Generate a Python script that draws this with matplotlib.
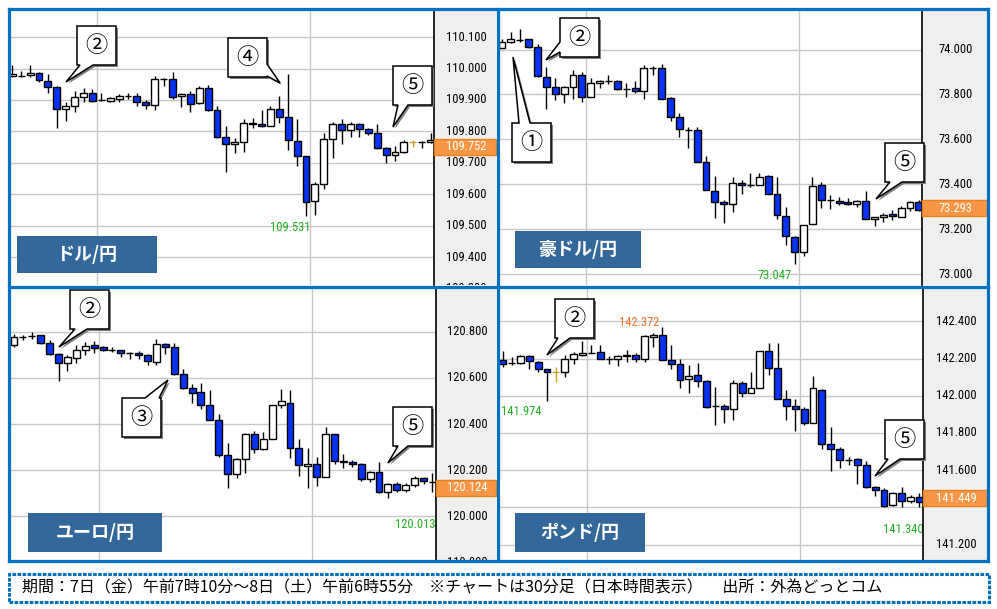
import matplotlib
matplotlib.use("Agg")
import matplotlib.pyplot as plt
from matplotlib import font_manager
from matplotlib.patches import Rectangle, Polygon
from matplotlib.lines import Line2D

# 30-minute candles, 7th 07:10 to 8th 06:55 (JST)
usd_open = [109.976, 109.976, 109.980, 109.987, 109.960, 109.940, 109.870, 109.882, 109.911, 109.923,
            109.899, 109.898, 109.904, 109.913, 109.914, 109.893, 109.883, 109.968, 109.968, 109.912,
            109.918, 109.889, 109.937, 109.868, 109.781, 109.760, 109.765, 109.828, 109.824, 109.818,
            109.870, 109.845, 109.771, 109.722, 109.580, 109.633, 109.775, 109.823, 109.805, 109.823,
            109.807, 109.794, 109.746, 109.725, 109.734, 109.765, 109.767, 109.766]
usd_high = [110.011, 109.992, 110.011, 109.990, 109.983, 109.945, 109.895, 109.927, 109.937, 109.934,
            109.921, 109.911, 109.918, 109.921, 109.921, 109.900, 109.976, 109.971, 109.989, 109.923,
            109.930, 109.945, 109.948, 109.882, 109.817, 109.778, 109.840, 109.842, 109.868, 109.882,
            109.913, 109.983, 109.840, 109.722, 109.640, 109.794, 109.831, 109.840, 109.831, 109.826,
            109.810, 109.824, 109.752, 109.755, 109.773, 109.773, 109.771, 109.794]
usd_low = [109.974, 109.972, 109.974, 109.956, 109.923, 109.812, 109.834, 109.863, 109.895, 109.895,
           109.898, 109.895, 109.895, 109.902, 109.881, 109.872, 109.868, 109.945, 109.904, 109.879,
           109.861, 109.886, 109.866, 109.778, 109.672, 109.733, 109.736, 109.810, 109.815, 109.818,
           109.828, 109.741, 109.690, 109.531, 109.533, 109.616, 109.717, 109.759, 109.781, 109.781,
           109.789, 109.743, 109.699, 109.707, 109.730, 109.752, 109.748, 109.762]
usd_close = [109.983, 109.977, 109.987, 109.964, 109.940, 109.870, 109.882, 109.911, 109.923, 109.898,
             109.900, 109.905, 109.913, 109.912, 109.893, 109.883, 109.968, 109.967, 109.911, 109.918,
             109.887, 109.937, 109.868, 109.781, 109.760, 109.765, 109.828, 109.824, 109.818, 109.870,
             109.845, 109.773, 109.722, 109.577, 109.633, 109.775, 109.823, 109.805, 109.823, 109.807,
             109.794, 109.746, 109.725, 109.734, 109.765, 109.766, 109.768, 109.773]

aud_open = [74.005, 74.035, 74.042, 74.045, 74.013, 73.876, 73.832, 73.801, 73.832, 73.885,
            73.787, 73.850, 73.861, 73.861, 73.825, 73.827, 73.814, 73.916, 73.916, 73.783,
            73.698, 73.642, 73.642, 73.501, 73.370, 73.321, 73.312, 73.407, 73.395, 73.396,
            73.439, 73.355, 73.261, 73.167, 73.097, 73.222, 73.397, 73.329, 73.326, 73.321,
            73.312, 73.326, 73.244, 73.253, 73.266, 73.256, 73.296, 73.320]
aud_high = [74.045, 74.080, 74.090, 74.046, 74.023, 73.921, 73.872, 73.838, 73.909, 73.901,
            73.872, 73.864, 73.887, 73.864, 73.850, 73.861, 73.931, 73.927, 73.936, 73.790,
            73.716, 73.657, 73.654, 73.526, 73.437, 73.330, 73.431, 73.419, 73.449, 73.449,
            73.440, 73.431, 73.301, 73.170, 73.220, 73.434, 73.412, 73.353, 73.345, 73.338,
            73.330, 73.370, 73.256, 73.274, 73.286, 73.305, 73.326, 73.330]
aud_low = [74.005, 74.031, 74.035, 74.008, 73.879, 73.734, 73.775, 73.763, 73.778, 73.765,
           73.787, 73.827, 73.847, 73.820, 73.790, 73.805, 73.781, 73.887, 73.778, 73.683,
           73.612, 73.560, 73.501, 73.373, 73.249, 73.226, 73.278, 73.355, 73.390, 73.395,
           73.355, 73.244, 73.130, 73.047, 73.081, 73.222, 73.293, 73.289, 73.307, 73.307,
           73.301, 73.244, 73.216, 73.231, 73.240, 73.253, 73.281, 73.283]
aud_close = [74.035, 74.045, 74.043, 74.013, 73.884, 73.832, 73.801, 73.832, 73.885, 73.787,
             73.850, 73.858, 73.862, 73.823, 73.826, 73.814, 73.916, 73.917, 73.780, 73.698,
             73.645, 73.643, 73.501, 73.373, 73.320, 73.312, 73.404, 73.397, 73.396, 73.434,
             73.355, 73.263, 73.170, 73.097, 73.219, 73.394, 73.330, 73.330, 73.318, 73.312,
             73.326, 73.244, 73.253, 73.262, 73.259, 73.296, 73.320, 73.286]

eur_open = [120.742, 120.777, 120.781, 120.785, 120.753, 120.705, 120.666, 120.688, 120.723, 120.742,
            120.733, 120.722, 120.720, 120.708, 120.710, 120.701, 120.669, 120.749, 120.733, 120.619,
            120.558, 120.539, 120.484, 120.419, 120.265, 120.181, 120.246, 120.355, 120.290, 120.333,
            120.482, 120.489, 120.297, 120.219, 120.227, 120.171, 120.355, 120.240, 120.236, 120.226,
            120.160, 120.190, 120.103, 120.138, 120.113, 120.135, 120.164, 120.148]
eur_high = [120.792, 120.788, 120.799, 120.788, 120.763, 120.708, 120.698, 120.742, 120.756, 120.759,
            120.737, 120.734, 120.723, 120.713, 120.716, 120.705, 120.767, 120.750, 120.753, 120.640,
            120.575, 120.580, 120.547, 120.445, 120.316, 120.251, 120.359, 120.369, 120.366, 120.484,
            120.551, 120.547, 120.337, 120.294, 120.258, 120.388, 120.355, 120.272, 120.243, 120.229,
            120.197, 120.233, 120.142, 120.147, 120.142, 120.175, 120.171, 120.186]
eur_low = [120.734, 120.763, 120.767, 120.749, 120.698, 120.586, 120.629, 120.666, 120.701, 120.710,
           120.717, 120.713, 120.691, 120.681, 120.684, 120.658, 120.658, 120.705, 120.614, 120.554,
           120.489, 120.467, 120.419, 120.258, 120.121, 120.167, 120.186, 120.275, 120.287, 120.333,
           120.470, 120.253, 120.175, 120.121, 120.132, 120.171, 120.225, 120.207, 120.214, 120.152,
           120.147, 120.099, 120.080, 120.103, 120.106, 120.128, 120.138, 120.103]
eur_close = [120.778, 120.778, 120.782, 120.753, 120.705, 120.666, 120.691, 120.723, 120.740, 120.731,
             120.723, 120.723, 120.710, 120.709, 120.701, 120.672, 120.749, 120.733, 120.619, 120.558,
             120.536, 120.484, 120.419, 120.265, 120.181, 120.246, 120.355, 120.290, 120.333, 120.482,
             120.499, 120.297, 120.222, 120.227, 120.171, 120.355, 120.239, 120.233, 120.225, 120.160,
             120.190, 120.103, 120.138, 120.113, 120.135, 120.164, 120.152, 120.147]

gbp_open = [142.191, 142.176, 142.177, 142.212, 142.182, 142.141, 142.125, 142.125, 142.200, 142.221,
            142.232, 142.236, 142.196, 142.196, 142.211, 142.221, 142.200, 142.318, 142.329, 142.194,
            142.173, 142.092, 142.110, 142.080, 141.946, 141.946, 141.931, 142.071, 142.017, 142.044,
            142.243, 142.151, 141.980, 141.944, 141.926, 141.856, 142.033, 141.743, 141.716, 141.657,
            141.659, 141.627, 141.510, 141.493, 141.412, 141.475, 141.433, 141.453]
gbp_high = [142.239, 142.209, 142.218, 142.218, 142.186, 142.146, 142.155, 142.221, 142.236, 142.293,
            142.271, 142.271, 142.214, 142.218, 142.245, 142.232, 142.329, 142.338, 142.372, 142.271,
            142.200, 142.164, 142.178, 142.083, 142.048, 141.953, 142.083, 142.078, 142.125, 142.243,
            142.286, 142.286, 142.033, 141.985, 141.940, 142.107, 142.035, 141.833, 141.725, 141.672,
            141.663, 141.648, 141.514, 141.502, 141.484, 141.510, 141.466, 141.478]
gbp_low = [142.155, 142.164, 142.173, 142.146, 142.125, 141.974, 142.074, 142.101, 142.168, 142.214,
           142.227, 142.200, 142.169, 142.160, 142.182, 142.182, 142.182, 142.262, 142.191, 142.146,
           142.042, 142.012, 142.048, 141.935, 141.845, 141.856, 141.869, 141.994, 142.017, 142.039,
           142.114, 141.980, 141.869, 141.811, 141.842, 141.851, 141.713, 141.598, 141.609, 141.627,
           141.528, 141.502, 141.462, 141.403, 141.408, 141.403, 141.421, 141.403]
gbp_close = [142.173, 142.177, 142.212, 142.186, 142.143, 142.125, 142.126, 142.196, 142.223, 142.232,
             142.231, 142.200, 142.196, 142.211, 142.221, 142.200, 142.320, 142.329, 142.194, 142.173,
             142.087, 142.105, 142.080, 141.940, 141.945, 141.931, 142.071, 142.017, 142.044, 142.243,
             142.151, 141.980, 141.944, 141.926, 141.856, 142.039, 141.743, 141.716, 141.654, 141.656,
             141.627, 141.507, 141.494, 141.407, 141.475, 141.433, 141.453, 141.430]

usd_ticks = [109.3, 109.4, 109.5, 109.6, 109.7, 109.8, 109.9, 110.0, 110.1]
aud_ticks = [73.0, 73.2, 73.4, 73.6, 73.8, 74.0]
eur_ticks = [119.8, 120.0, 120.2, 120.4, 120.6, 120.8]
gbp_ticks = [141.2, 141.4, 141.6, 141.8, 142.0, 142.2, 142.4]
last_prices = [109.752, 73.293, 120.124, 141.449]
titles = ["ドル/円", "豪ドル/円", "ユーロ/円", "ポンド/円"]
caption = "期間：7日（金）午前7時10分～8日（土）午前6時55分　※チャートは30分足（日本時間表示）　 出所：外為どっとコム"

W, H = 997, 609
FRAME = "#0070c0"
DOWN = "#0a32f5"
GOLD = "#c8a032"
GRID = "#c8c8c8"
TITLE_BG = "#34679a"
JP = ["Noto Sans CJK JP", "DejaVu Sans"]

names = {f.name for f in font_manager.fontManager.ttflist}
NUM = next((n for n in ["Liberation Sans Narrow", "Roboto Condensed", "Arial Narrow"] if n in names), "DejaVu Sans")
plt.rcParams["font.family"] = [NUM, "DejaVu Sans"]

fig = plt.figure(figsize=(W / 100, H / 100), dpi=100)


def fx(px):
    return px / W


def fy(py):
    return 1 - py / H


def px_axes(l, t, r, b):
    return fig.add_axes([fx(l), fy(b), (r - l) / W, (b - t) / H])


panels = [
    dict(o=usd_open, h=usd_high, l=usd_low, c=usd_close, ticks=usd_ticks, ylim=(109.312, 110.186),
         xlim=(-0.26, 47.38), box=(10, 10, 434, 285), right=496, gold=[45],
         title_box=(17, 236, 157, 273),
         notes=[(31.2, 109.494, "109.531", "#20b020", "center")]),
    dict(o=aud_open, h=aud_high, l=aud_low, c=aud_close, ticks=aud_ticks, ylim=(72.952, 74.176),
         xlim=(-0.23, 47.35), box=(500, 10, 922, 285), right=987, gold=[],
         title_box=(515, 231, 641, 268),
         notes=[(30.7, 72.993, "73.047", "#20b020", "center")]),
    dict(o=eur_open, h=eur_high, l=eur_low, c=eur_close, ticks=eur_ticks, ylim=(119.81, 120.99),
         xlim=(-0.45, 47.4), box=(10, 288, 436, 560), right=496, gold=[],
         title_box=(28, 513, 162, 552),
         notes=[(42.8, 119.966, "120.013", "#20b020", "left")]),
    dict(o=gbp_open, h=gbp_high, l=gbp_low, c=gbp_close, ticks=gbp_ticks, ylim=(141.117, 142.579),
         xlim=(-0.3, 47.4), box=(500, 288, 923, 560), right=987, gold=[6],
         title_box=(515, 513, 645, 552),
         notes=[(-0.16, 141.913, "141.974", "#20b020", "left"),
                (15.4, 142.391, "142.372", "#f07020", "center"),
                (42.9, 141.281, "141.340", "#20b020", "left")]),
]

for p, last, title in zip(panels, last_prices, titles):
    l, t, r, b = p["box"]
    ax = px_axes(l, t, r, b)
    ax.set_xlim(*p["xlim"])
    ax.set_ylim(*p["ylim"])
    ax.set_xticks([])
    ax.set_yticks([])
    for s in ax.spines.values():
        s.set_visible(False)
    for tk in p["ticks"]:
        ax.axhline(tk, color=GRID, lw=1, zorder=0)
    for v in (9.5, 33.5):
        ax.axvline(v, color=GRID, lw=1, zorder=0)

    for i, (o, hi, lo, c) in enumerate(zip(p["o"], p["h"], p["l"], p["c"])):
        edge = GOLD if i in p["gold"] else "black"
        face = "white" if c >= o else DOWN
        if i in p["gold"]:
            face = GOLD
        ax.vlines(i, lo, hi, color=edge, lw=1, zorder=2)
        ax.add_patch(Rectangle((i - 0.39, min(o, c)), 0.78, abs(c - o),
                               facecolor=face, edgecolor=edge, lw=1, zorder=3))

    for x, y, txt, col, ha in p["notes"]:
        ax.text(x, y, txt, color=col, fontsize=9, ha=ha, va="center", clip_on=True, zorder=4)

    # price scale on the right
    pax = px_axes(r, t, p["right"], b)
    pax.set_facecolor("#efefef")
    pax.set_xlim(0, 1)
    pax.set_ylim(*p["ylim"])
    pax.set_xticks([])
    pax.set_yticks([])
    for name, s in pax.spines.items():
        s.set_visible(name == "left")
    pax.spines["left"].set_color("black")
    pax.spines["left"].set_linewidth(1.2)
    span = p["ylim"][1] - p["ylim"][0]
    hh = 16 * span / (b - t)
    for tk in p["ticks"]:
        # a scale label sitting under the current-price tag is hidden by it
        if abs(tk - last) < hh * 0.9:
            continue
        pax.text(0.52, tk, f"{tk:.3f}", fontsize=9, ha="center", va="center", clip_on=True)
    pax.add_patch(Rectangle((0, last - hh / 2), 1, hh, facecolor="#f79646",
                            edgecolor="#e8821e", lw=1, zorder=3, clip_on=False))
    pax.text(0.52, last, f"{last:.3f}", color="white", fontsize=9, ha="center",
             va="center", zorder=4)

    # pair name box
    tl, tt, tr, tb = p["title_box"]
    fig.add_artist(Rectangle((fx(tl), fy(tb)), (tr - tl) / W, (tb - tt) / H,
                             transform=fig.transFigure, facecolor=TITLE_BG, edgecolor="none"))
    fig.text(fx((tl + tr) / 2), fy((tt + tb) / 2), title, color="white", fontsize=13,
             fontweight="bold", ha="center", va="center", family=JP)


def callout(x, y, edge, a, b, tip, label):
    w = h = 39
    x1, y1 = x + w, y + h
    if edge == "bottom":
        pts = [(x, y), (x1, y), (x1, y1), (b, y1), tip, (a, y1), (x, y1)]
    elif edge == "top":
        pts = [(x, y), (a, y), tip, (b, y), (x1, y), (x1, y1), (x, y1)]
    elif edge == "left":
        pts = [(x, y), (x1, y), (x1, y1), (x, y1), (x, b), tip, (x, a)]
    else:
        pts = [(x, y), (x1, y), (x1, a), tip, (x1, b), (x1, y1), (x, y1)]
    shadow = [(px + 2, py + 2) for px, py in pts]
    fig.add_artist(Polygon([(fx(px), fy(py)) for px, py in shadow], closed=True,
                           transform=fig.transFigure, facecolor="#808080", edgecolor="none"))
    fig.add_artist(Polygon([(fx(px), fy(py)) for px, py in pts], closed=True,
                           transform=fig.transFigure, facecolor="white", edgecolor="black", lw=1.1))
    fig.text(fx(x + w / 2), fy(y + h / 2), label, fontsize=16, ha="center", va="center", family=JP)


callouts = [
    (77, 26, "bottom", 80, 93, (66, 82), "②"),
    (228, 38, "right", 64, 76, (280, 83), "④"),
    (393, 66, "bottom", 398, 408, (393, 127), "⑤"),
    (560, 18, "left", 42, 52, (546, 60), "②"),
    (512, 123, "top", 519, 530, (513, 57), "①"),
    (885, 143, "bottom", 890, 902, (876, 199), "⑤"),
    (70, 290, "bottom", 75, 87, (59, 347), "②"),
    (122, 398, "top", 145, 159, (168, 380), "③"),
    (393, 407, "bottom", 398, 408, (388, 463), "⑤"),
    (555, 299, "bottom", 558, 570, (547, 355), "②"),
    (885, 420, "bottom", 888, 900, (875, 476), "⑤"),
]
for c in callouts:
    callout(*c)

# blue frame around the four panels
for (x0, y0, x1, y1) in [(8.5, 8.5, 988, 8.5), (8.5, 561, 988, 561), (8.5, 8.5, 8.5, 561),
                         (988, 8.5, 988, 561), (498, 8.5, 498, 561), (8.5, 286.5, 988, 286.5)]:
    fig.add_artist(Line2D([fx(x0), fx(x1)], [fy(y0), fy(y1)], color=FRAME, lw=2.3,
                          transform=fig.transFigure, zorder=5))

# caption box
fig.add_artist(Rectangle((fx(8.5), fy(602)), (989 - 8.5) / W, (602 - 574) / H,
                         transform=fig.transFigure, facecolor="none", edgecolor=FRAME,
                         lw=2.2, linestyle=(0, (1.2, 0.45))))
fig.text(fx(22), fy(588), caption, fontsize=11.5, ha="left", va="center", family=JP)

fig.savefig("out.png", dpi=100, facecolor="white")
